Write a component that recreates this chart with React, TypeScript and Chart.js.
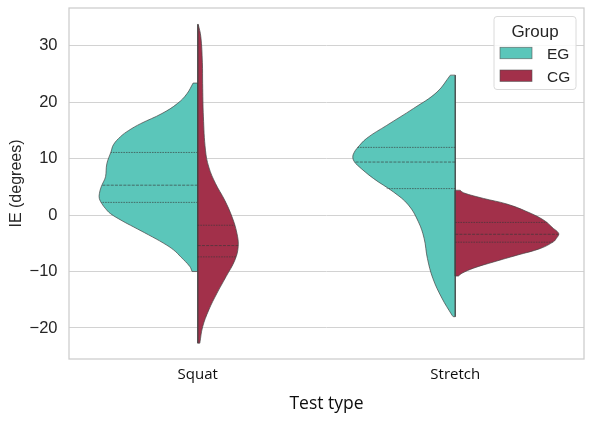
import React, { useEffect, useRef } from 'react';
import { Chart, registerables } from 'chart.js';

Chart.register(...registerables);

// ---------- data ----------
const categories = ['Squat', 'Stretch'];
const groups = ['EG', 'CG'];
const groupColors = ['#5bc6ba', '#a2304a'];
const yTickValues = [-20, -10, 0, 10, 20, 30];
const yAxisMin = -25.5;
const yAxisMax = 36.7;

// half-violin profiles: y value -> half width (in category units)
const squatEG_y = [23.4, 21.5, 19.8, 18.0, 16.2, 15.0, 13.9, 12.5, 11.2, 9.1, 6.8, 5.9, 5.0, 3.8, 2.9, 2.0, 1.2, 0.3, -1.0, -2.1, -3.5, -5.0, -6.2, -7.4, -9.1, -10.0];
const squatEG_w = [0.018, 0.042, 0.078, 0.139, 0.222, 0.268, 0.3, 0.327, 0.337, 0.353, 0.358, 0.366, 0.375, 0.382, 0.382, 0.372, 0.359, 0.34, 0.294, 0.249, 0.191, 0.132, 0.093, 0.066, 0.031, 0.022];
const squatEG_q = [11.1, 5.3, 2.25];
const squatEG_qw = [0.337, 0.37, 0.376];

const squatCG_y = [33.8, 31.6, 27.0, 23.3, 17.4, 11.5, 8.5, 5.6, 2.7, -0.3, -3.2, -5.6, -8.0, -10.9, -13.9, -16.8, -19.8, -22.7];
const squatCG_w = [0.002, 0.012, 0.018, 0.019, 0.022, 0.03, 0.043, 0.069, 0.104, 0.133, 0.152, 0.157, 0.144, 0.11, 0.074, 0.043, 0.019, 0.008];
const squatCG_q = [-1.8, -5.4, -7.4];
const squatCG_qw = [0.144, 0.157, 0.15];

const stretchEG_y = [24.8, 21.8, 18.9, 15.9, 13.6, 11.8, 11.05, 10.3, 9.55, 8.85, 6.5, 4.1, 1.8, -1.2, -4.1, -7.7, -11.2, -14.7, -17.7, -18.0];
const stretchEG_w = [0.019, 0.071, 0.162, 0.266, 0.344, 0.382, 0.393, 0.398, 0.393, 0.38, 0.318, 0.24, 0.182, 0.143, 0.121, 0.108, 0.087, 0.052, 0.013, 0.008];
const stretchEG_q = [12.0, 9.4, 4.7];
const stretchEG_qw = [0.38, 0.39, 0.266];

const stretchCG_y = [4.4, 3.95, 2.95, 1.95, 0.6, -0.9, -2.4, -2.9, -3.4, -4.1, -4.7, -5.9, -7.1, -8.3, -9.4, -10.3, -10.8];
const stretchCG_w = [0.019, 0.032, 0.11, 0.201, 0.279, 0.344, 0.382, 0.396, 0.402, 0.393, 0.382, 0.331, 0.24, 0.149, 0.071, 0.026, 0.012];
const stretchCG_q = [-1.3, -3.4, -4.8];
const stretchCG_qw = [0.357, 0.402, 0.378];

type Violin = { cat: number; group: number; v: number[]; w: number[]; q: number[]; qw: number[] };
const violins: Violin[] = [
  { cat: 0, group: 0, v: squatEG_y, w: squatEG_w, q: squatEG_q, qw: squatEG_qw },
  { cat: 0, group: 1, v: squatCG_y, w: squatCG_w, q: squatCG_q, qw: squatCG_qw },
  { cat: 1, group: 0, v: stretchEG_y, w: stretchEG_w, q: stretchEG_q, qw: stretchEG_qw },
  { cat: 1, group: 1, v: stretchCG_y, w: stretchCG_w, q: stretchCG_q, qw: stretchCG_qw },
];

// ---------- styles ----------
const OUTLINE = 'rgba(70,70,70,0.9)';
const INNER = 'rgba(55,55,55,0.7)';
const TEXT = '#262626';
const SANS = "'Liberation Sans', Arial, sans-serif";
const OPEN = "'Open Sans', 'Noto Sans', sans-serif";

function buildDatasets() {
  const ds: any[] = [];
  violins.forEach((vi) => {
    const side = vi.group === 0 ? -1 : 1;
    const c = vi.cat;
    const n = vi.v.length - 1;
    ds.push({
      data: vi.v.map((y, i) => ({ x: c + side * vi.w[i], y })),
      borderColor: OUTLINE,
      borderWidth: 0.8,
      backgroundColor: groupColors[vi.group],
      fill: { value: c },
      tension: 0.4,
      pointRadius: 0,
    });
    ds.push({
      data: [
        { x: c + side * vi.w[0], y: vi.v[0] },
        { x: c, y: vi.v[0] },
        { x: c, y: vi.v[n] },
        { x: c + side * vi.w[n], y: vi.v[n] },
      ],
      borderColor: OUTLINE,
      borderWidth: 0.8,
      fill: false,
      tension: 0,
      pointRadius: 0,
    });
    vi.q.forEach((q, k) => {
      ds.push({
        data: [
          { x: c, y: q },
          { x: c + side * vi.qw[k], y: q },
        ],
        borderColor: INNER,
        borderWidth: 0.9,
        borderDash: k === 1 ? [3, 1.2] : [1.6, 1],
        fill: false,
        tension: 0,
        pointRadius: 0,
      });
    });
  });
  // Chart.js paints the first dataset last (on top): reverse so later marks sit above earlier ones
  return ds.reverse();
}

const framePlugin = {
  id: 'frame',
  beforeDatasetsDraw(chart: any) {
    const { ctx, chartArea: a } = chart;
    ctx.save();
    ctx.strokeStyle = '#cccccc';
    ctx.lineWidth = 1.25;
    ctx.strokeRect(a.left, a.top, a.right - a.left, a.bottom - a.top);
    ctx.restore();
  },
};

const legendPlugin = {
  id: 'groupLegend',
  afterDraw(chart: any) {
    const { ctx, chartArea: a } = chart;
    const bx = a.right - 90;
    const by = a.top + 8.5;
    const bw = 82;
    const bh = 73;
    const r = 3;
    ctx.save();
    ctx.beginPath();
    ctx.moveTo(bx + r, by);
    ctx.lineTo(bx + bw - r, by);
    ctx.arcTo(bx + bw, by, bx + bw, by + r, r);
    ctx.lineTo(bx + bw, by + bh - r);
    ctx.arcTo(bx + bw, by + bh, bx + bw - r, by + bh, r);
    ctx.lineTo(bx + r, by + bh);
    ctx.arcTo(bx, by + bh, bx, by + bh - r, r);
    ctx.lineTo(bx, by + r);
    ctx.arcTo(bx, by, bx + r, by, r);
    ctx.closePath();
    ctx.fillStyle = 'rgba(255,255,255,0.85)';
    ctx.fill();
    ctx.strokeStyle = '#dadada';
    ctx.lineWidth = 1;
    ctx.stroke();

    ctx.fillStyle = TEXT;
    ctx.font = `17px ${SANS}`;
    ctx.textAlign = 'center';
    ctx.textBaseline = 'alphabetic';
    ctx.fillText('Group', bx + bw / 2, by + 20);
    ctx.font = `15.5px ${SANS}`;
    groups.forEach((g, i) => {
      const py = by + 30.8 + i * 22.7;
      ctx.fillStyle = groupColors[i];
      ctx.fillRect(bx + 6, py, 32, 11.4);
      ctx.strokeStyle = 'rgba(80,80,80,0.7)';
      ctx.lineWidth = 0.8;
      ctx.strokeRect(bx + 6, py, 32, 11.4);
      ctx.fillStyle = TEXT;
      ctx.textAlign = 'left';
      ctx.fillText(g, bx + 53, py + 11.7);
    });
    ctx.restore();
  },
};

function fmt(v: number) {
  return v < 0 ? '\u2212' + Math.abs(v) : String(v);
}

export default function App() {
  const ref = useRef<HTMLCanvasElement | null>(null);
  useEffect(() => {
    if (!ref.current) return;
    const chart = new Chart(ref.current, {
      type: 'line',
      data: { datasets: buildDatasets() },
      options: {
        indexAxis: 'y',
        animation: false,
        responsive: false,
        layout: { padding: { top: 8, right: 10, left: 0, bottom: 0 } },
        plugins: {
          legend: { display: false },
          tooltip: { enabled: false },
        },
        elements: { point: { radius: 0 } },
        scales: {
          x: {
            type: 'linear',
            min: -0.5,
            max: 1.5,
            afterBuildTicks: (s: any) => {
              s.ticks = categories.map((_, i) => ({ value: i }));
            },
            afterFit: (s: any) => {
              s.height = 87;
              s.paddingLeft = 0;
              s.paddingRight = 0;
            },
            ticks: {
              callback: (v: any) => categories[v],
              font: { family: OPEN, size: 15 },
              color: '#0d0d0d',
              padding: 6.5,
              maxRotation: 0,
            },
            grid: { display: false, drawTicks: false },
            border: { display: false },
            title: {
              display: true,
              text: 'Test type',
              font: { family: OPEN, size: 17.5 },
              color: '#0d0d0d',
              padding: { top: 0, bottom: 31 },
            },
          },
          y: {
            type: 'linear',
            min: yAxisMin,
            max: yAxisMax,
            afterBuildTicks: (s: any) => {
              s.ticks = yTickValues.map((v) => ({ value: v }));
            },
            afterFit: (s: any) => {
              s.width = 69;
              s.paddingTop = 0;
              s.paddingBottom = 0;
            },
            ticks: {
              callback: (v: any) => fmt(v),
              font: { family: SANS, size: 16.5 },
              color: TEXT,
              padding: 11.5,
            },
            grid: { color: '#d2d2d2', lineWidth: 1, drawTicks: false },
            border: { display: false },
            title: {
              display: true,
              text: 'IE (degrees)',
              font: { family: SANS, size: 16 },
              color: TEXT,
              padding: { top: 7.4, bottom: 0 },
            },
          },
        },
      } as any,
      plugins: [framePlugin, legendPlugin],
    });
    return () => chart.destroy();
  }, []);
  return (
    <div style={{ position: 'fixed', left: 0, top: 0, width: 594, height: 446, background: '#fff' }}>
      <canvas ref={ref} width={594} height={446} style={{ display: 'block' }} />
    </div>
  );
}
